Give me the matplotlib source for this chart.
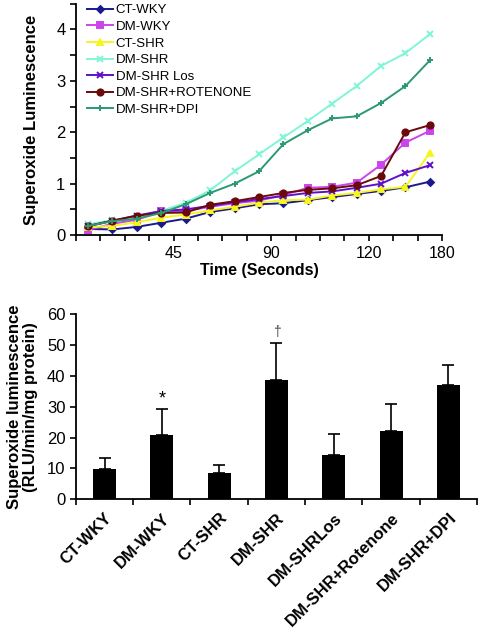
import matplotlib
matplotlib.use('Agg')
from matplotlib import pyplot as plt
import numpy as np

plt.rcParams['font.family'] = ['Liberation Sans', 'DejaVu Sans']

# Top chart: superoxide luminescence over time (15 readings)
time_labels = {3.5: '45', 7.5: '90', 11.5: '120', 14.5: '180'}
ct_wky = [0.12, 0.11, 0.16, 0.24, 0.32, 0.45, 0.52, 0.60, 0.62, 0.68, 0.74, 0.80, 0.86, 0.93, 1.04]
dm_wky = [0.10, 0.22, 0.30, 0.46, 0.47, 0.55, 0.62, 0.67, 0.78, 0.92, 0.94, 1.02, 1.37, 1.80, 2.03]
ct_shr = [0.15, 0.18, 0.25, 0.34, 0.40, 0.48, 0.55, 0.63, 0.68, 0.69, 0.77, 0.82, 0.89, 0.94, 1.60]
dm_shr = [0.21, 0.29, 0.36, 0.47, 0.63, 0.87, 1.24, 1.57, 1.90, 2.22, 2.56, 2.90, 3.29, 3.54, 3.91]
dm_shr_los = [0.17, 0.28, 0.38, 0.47, 0.50, 0.57, 0.64, 0.70, 0.76, 0.82, 0.85, 0.92, 1.00, 1.21, 1.36]
dm_shr_rot = [0.18, 0.28, 0.38, 0.43, 0.44, 0.59, 0.66, 0.74, 0.82, 0.88, 0.91, 0.97, 1.15, 2.00, 2.14]
dm_shr_dpi = [0.18, 0.27, 0.32, 0.43, 0.60, 0.82, 1.00, 1.24, 1.77, 2.04, 2.27, 2.31, 2.57, 2.90, 3.40]

# Bottom chart: mean rate with error bars
groups = ['CT-WKY', 'DM-WKY', 'CT-SHR', 'DM-SHR', 'DM-SHRLos', 'DM-SHR+Rotenone', 'DM-SHR+DPI']
means = [9.7, 20.8, 8.4, 38.8, 14.4, 22.2, 37.1]
errors = [3.7, 8.3, 2.8, 11.7, 6.6, 8.6, 6.4]
marks = ['', '*', '', '\u2020', '', '', '']

fig = plt.figure(figsize=(4.8, 6.32), dpi=100)

# ---- top line chart ----
ax1 = fig.add_axes([0.158, 0.628, 0.763, 0.366])
x = np.arange(len(ct_wky))
series = [
    ('CT-WKY', ct_wky, '#1a1a8c', 'D', 3.5),
    ('DM-WKY', dm_wky, '#cc44ee', 's', 4.5),
    ('CT-SHR', ct_shr, '#f5f520', '^', 5),
    ('DM-SHR', dm_shr, '#80f5d8', 'x', 5),
    ('DM-SHR Los', dm_shr_los, '#6010c8', 'x', 5),
    ('DM-SHR+ROTENONE', dm_shr_rot, '#6a0a0a', 'o', 4.5),
    ('DM-SHR+DPI', dm_shr_dpi, '#2a9a70', '+', 5),
]
for name, vals, col, mk, ms in series:
    ax1.plot(x, vals, color=col, marker=mk, markersize=ms, linewidth=1.4,
             markeredgewidth=1.4, label=name)

ax1.set_xlim(-0.5, 14.5)
ax1.set_ylim(0, 4.5)
xt = np.arange(-0.5, 15, 1)
ax1.set_xticks(xt)
ax1.set_xticklabels([time_labels.get(t, '') for t in xt], fontsize=11.5)
yt = np.arange(0, 4.51, 0.5)
ax1.set_yticks(yt)
ax1.set_yticklabels([str(int(t)) if t == int(t) else '' for t in yt], fontsize=12)
ax1.tick_params(direction='out', length=4, width=1.2)
ax1.spines['top'].set_visible(False)
ax1.spines['right'].set_visible(False)
ax1.spines['left'].set_linewidth(1.3)
ax1.spines['bottom'].set_linewidth(1.3)
ax1.set_xlabel('Time (Seconds)', fontsize=11.5, fontweight='bold', labelpad=2)
ax1.set_ylabel('Superoxide Luminescence', fontsize=12, fontweight='bold', labelpad=12)
ax1.legend(loc='upper left', bbox_to_anchor=(0.03, 0.998), frameon=False,
           fontsize=9.5, handlelength=2.0, handletextpad=0.2, labelspacing=0.33,
           borderpad=0, borderaxespad=0)

# ---- bottom bar chart ----
ax2 = fig.add_axes([0.158, 0.210, 0.836, 0.293])
xb = np.arange(len(groups))
ax2.bar(xb, means, width=0.4, color='black')
ax2.errorbar(xb, means, yerr=[np.zeros(len(errors)), errors], fmt='none',
             ecolor='black', elinewidth=1.2, capsize=4, capthick=1.2)
for xi, m, e, s in zip(xb, means, errors, marks):
    if s == '*':
        ax2.text(xi, m + e + 0.8, s, ha='center', va='bottom', fontsize=13)
    elif s:
        ax2.text(xi, m + e + 1.5, s, ha='center', va='bottom', fontsize=10,
                 color='#444444')
ax2.set_xlim(-0.5, len(groups) - 0.5)
ax2.set_ylim(0, 60)
ax2.set_yticks(np.arange(0, 61, 10))
ax2.tick_params(axis='y', labelsize=12, direction='out', length=4, width=1.2)
ax2.set_xticks(np.arange(-0.5, len(groups), 1))
ax2.set_xticklabels([])
ax2.set_xticks(xb, minor=True)
ax2.set_xticklabels(groups, minor=True, rotation=45, ha='right', va='top',
                    rotation_mode='anchor', fontsize=12, fontweight='bold')
ax2.tick_params(axis='x', which='major', direction='out', length=4, width=1.2)
ax2.tick_params(axis='x', which='minor', length=0, pad=8)
ax2.spines['top'].set_visible(False)
ax2.spines['right'].set_visible(False)
ax2.spines['left'].set_linewidth(1.3)
ax2.spines['bottom'].set_linewidth(1.3)
ax2.set_ylabel('Superoxide luminescence\n(RLU/min/mg protein)', fontsize=12,
               fontweight='bold', labelpad=6, linespacing=1.1)

fig.savefig('out.png', dpi=100)
